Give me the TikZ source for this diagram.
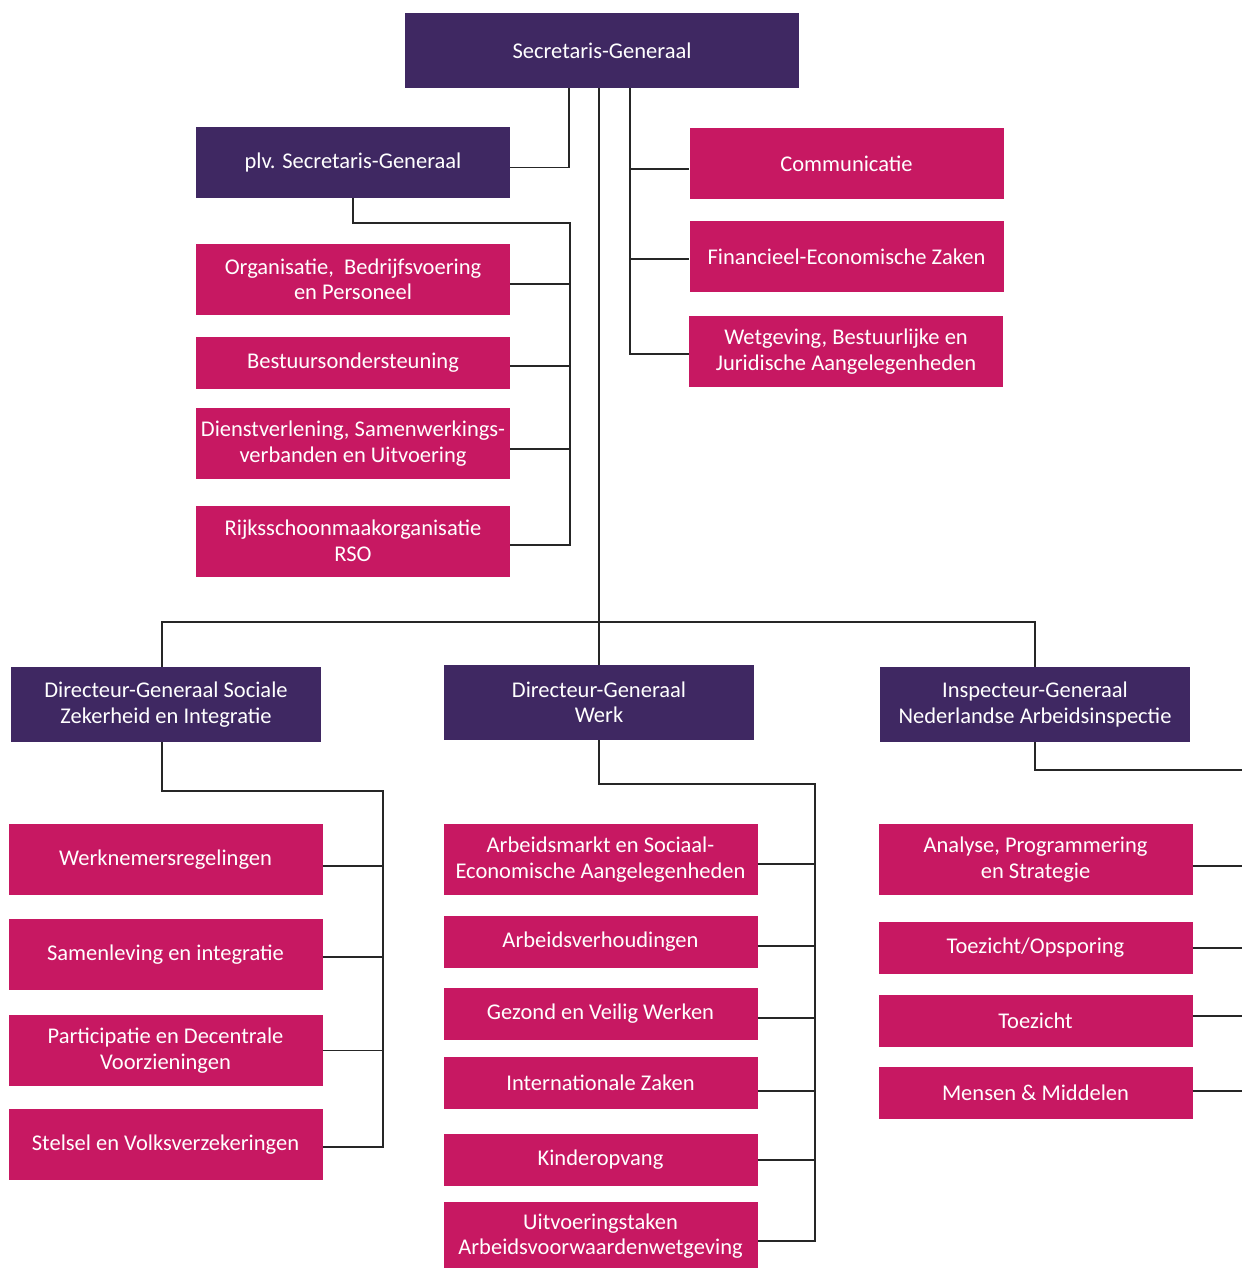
\documentclass[tikz,border=0pt]{standalone}
\usepackage{fontspec}
\setmainfont{Carlito}
\usetikzlibrary{positioning}
\definecolor{paars}{HTML}{3F2862}
\definecolor{robijn}{HTML}{C71862}
\tikzset{
	head/.style={fill=paars,text=white,align=center,inner sep=0pt,minimum width=310pt,minimum height=75pt,font=\fontsize{22.5}{25.5}\selectfont},
	unit/.style={head,fill=robijn,minimum width=314pt,minimum height=71pt},
	low/.style={minimum height=52pt},
	link/.style={draw=black!85,line width=1.4pt}
}

\begin{document}
\begin{tikzpicture}[x=1pt,y=-1pt]
	\useasboundingbox (0,0) rectangle (1242,1268);
	% top
	\node[head,minimum width=394pt] (sg) at (602,50.5) {Secretaris-Generaal};
	\node[head,minimum width=314pt,minimum height=71pt] (plv) at (353,162.5) {plv. Secretaris-Generaal};
	\node[unit] (com) at (846.5,163.5) {Communicatie};
	\node[unit] (fez) at (846.5,256.5) {Financieel-Economische Zaken};
	\node[unit] (wbj) at (846,351.5) {Wetgeving, Bestuurlijke en\\Juridische Aangelegenheden};
	% staff under plv
	\node[unit] (obp) at (353,279.5) {Organisatie,\ \ Bedrijfsvoering\\en Personeel};
	\node[unit,low] (bo) at (353,363) {Bestuursondersteuning};
	\node[unit] (dsu) at (353,443.5) {Dienstverlening, Samenwerkings-\\verbanden en Uitvoering};
	\node[unit] (rso) at (353,541) {Rijksschoonmaakorganisatie\\RSO};
	% directors
	\node[head] (dgs) at (166,704.5) {Directeur-Generaal Sociale\\Zekerheid en Integratie};
	\node[head] (dgw) at (599,702.5) {Directeur-Generaal\\Werk};
	\node[head] (ig) at (1035,704.5) {Inspecteur-Generaal\\Nederlandse Arbeidsinspectie};
	% SZI
	\node[unit] (wnr) at (165.5,859.5) {Werknemersregelingen};
	\node[unit] (sei) at (165.5,954.5) {Samenleving en integratie};
	\node[unit] (pdv) at (165.5,1050.5) {Participatie en Decentrale\\Voorzieningen};
	\node[unit] (svv) at (165.5,1144.5) {Stelsel en Volksverzekeringen};
	% Werk
	\node[unit] (asea) at (600.5,859.5) {Arbeidsmarkt en Sociaal-\\Economische Aangelegenheden};
	\node[unit,low] (av) at (600.5,942) {Arbeidsverhoudingen};
	\node[unit,low] (gvw) at (600.5,1014) {Gezond en Veilig Werken};
	\node[unit,low] (iz) at (600.5,1083) {Internationale Zaken};
	\node[unit,low] (ko) at (600.5,1160) {Kinderopvang};
	\node[unit,minimum height=68pt] (uaw) at (600.5,1236) {Uitvoeringstaken\\Arbeidsvoorwaardenwetgeving};
	% inspectie
	\node[unit] (aps) at (1035.5,859.5) {Analyse, Programmering\\en Strategie};
	\node[unit,low] (to) at (1035.5,948) {Toezicht/Opsporing};
	\node[unit,low] (tz) at (1035.5,1021) {Toezicht};
	\node[unit,low] (mm) at (1035.5,1093) {Mensen \& Middelen};
	% bus points
	\coordinate (split) at (599,622);
	\coordinate (sbus) at (630,0);
	\coordinate (pbus) at (570,223);
	\coordinate (zbus) at (383,791);
	\coordinate (wbus) at (815,784);
	\coordinate (edge) at (1242,770);
	% connectors
	\draw[link] ([xshift=-33pt]sg.south) |- ([yshift=-5pt]plv.east);
	\draw[link] (sg.south -| split) -- (split);
	\draw[link] ([xshift=-4pt]dgs.north) |- (split) -| (ig.north);
	\draw[link] (split) -- (dgw.north);
	\draw[link] (sg.south -| sbus) |- ([yshift=-2.5pt]wbj.west);
	\foreach \n/\d in {com/5.5,fez/2.5}
		\draw[link] ([yshift=-\d pt]\n.west -| sbus) -- ([yshift=-\d pt]\n.west);
	\draw[link] (plv.south) |- (pbus) |- ([yshift=-4pt]rso.east);
	\foreach \n/\d in {obp/4.5,bo/3,dsu/5.5}
		\draw[link] ([yshift=-\d pt]\n.east) -- ([yshift=-\d pt]\n.east -| pbus);
	\draw[link] ([xshift=-4pt]dgs.south) |- (zbus) |- ([yshift=-2.5pt]svv.east);
	\foreach \n/\d in {wnr/6.5,sei/2.5,pdv/0}
		\draw[link] ([yshift=-\d pt]\n.east) -- ([yshift=-\d pt]\n.east -| zbus);
	\draw[link] (dgw.south) |- (wbus) |- ([yshift=-5pt]uaw.east);
	\foreach \n/\d in {asea/4.5,av/4,gvw/4,iz/8,ko/0}
		\draw[link] ([yshift=-\d pt]\n.east) -- ([yshift=-\d pt]\n.east -| wbus);
	\draw[link] (ig.south) |- (edge);
	\foreach \n/\d in {aps/6.5,to/0,tz/-5,mm/-2}
		\draw[link] ([yshift=-\d pt]\n.east) -- ([yshift=-\d pt]\n.east -| edge);
\end{tikzpicture}
\end{document}
